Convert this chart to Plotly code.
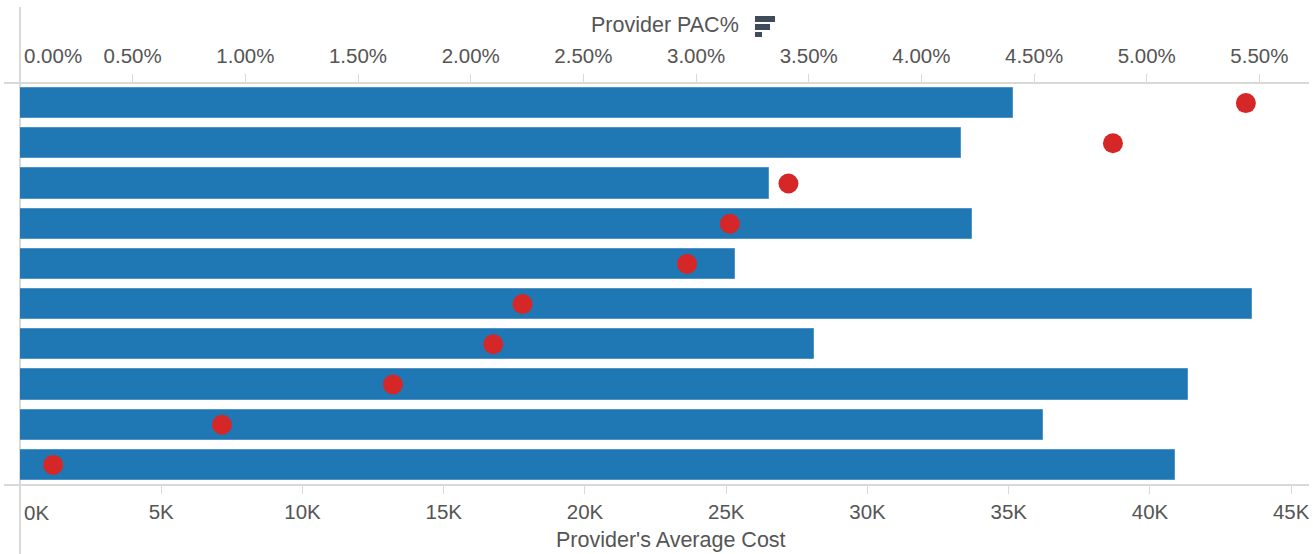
import plotly.graph_objects as go

# Providers ranked by PAC% (highest first)
provider_rank = [1, 2, 3, 4, 5, 6, 7, 8, 9, 10]
avg_cost = [35150, 33300, 26500, 33700, 25300, 43600, 28100, 41350, 36200, 40900]
pac_share = [0.0544, 0.0485, 0.0341, 0.0315, 0.0296, 0.0223, 0.0210, 0.01655, 0.00896, 0.00147]

cost_tickvals = [5000, 10000, 15000, 20000, 25000, 30000, 35000, 40000, 45000]
cost_ticktext = ["5K", "10K", "15K", "20K", "25K", "30K", "35K", "40K", "45K"]
pac_tickvals = [0.005, 0.01, 0.015, 0.02, 0.025, 0.03, 0.035, 0.04, 0.045, 0.05, 0.055]

W, H = 1313, 554
M_L, M_R, M_T, M_B = 20, 4, 83, 69
PW, PH = W - M_L - M_R, H - M_T - M_B

FONT = "Liberation Sans, Arial, Helvetica, sans-serif"
TEXT = "#555555"
RULE = "#d9d9d9"
BAR = "#1f77b4"
DOT = "#d62728"
TICK_SIZE = 20.5
TITLE_SIZE = 21.5


def px_x(p):
    return (p - M_L) / PW


def px_y(p):
    return (H - M_B - p) / PH


fig = go.Figure()

fig.add_trace(go.Bar(
    x=avg_cost, y=[r - 1 for r in provider_rank], orientation="h",
    width=0.75, marker=dict(color=BAR, line=dict(color="#4f94c9", width=1)),
    xaxis="x", yaxis="y", hoverinfo="x",
))

fig.add_trace(go.Scatter(
    x=pac_share, y=[r - 1 for r in provider_rank], mode="markers",
    marker=dict(color=DOT, size=20, line=dict(width=0)),
    xaxis="x2", yaxis="y", hoverinfo="x", cliponaxis=False,
))

axis_common = dict(
    showgrid=False, zeroline=False, showline=False,
    ticks="outside", ticklen=8, tickwidth=1, tickcolor=RULE,
    tickfont=dict(family=FONT, size=TICK_SIZE, color=TEXT),
    fixedrange=True,
)

fig.update_layout(
    width=W, height=H,
    margin=dict(l=M_L, r=M_R, t=M_T, b=M_B, pad=0),
    paper_bgcolor="white", plot_bgcolor="white",
    showlegend=False, bargap=0,
    xaxis=dict(range=[0, 45630], tickvals=cost_tickvals, ticktext=cost_ticktext,
               side="bottom", ticklabelstandoff=0, **axis_common),
    xaxis2=dict(range=[0, 0.0572], tickvals=pac_tickvals, tickformat=".2%",
                side="top", overlaying="x", ticklabelstandoff=3, **axis_common),
    yaxis=dict(range=[9.5, -0.5], showticklabels=False, showgrid=False,
               zeroline=False, showline=False, ticks="", fixedrange=True),
)

# Pane rules: top and bottom axis lines running into the left margin, and the left rule
line_style = dict(color=RULE, width=2)
fig.add_shape(type="line", xref="paper", yref="paper",
              x0=px_x(4), x1=1, y0=1, y1=1, line=line_style, layer="below")
fig.add_shape(type="line", xref="paper", yref="paper",
              x0=px_x(4), x1=1, y0=0, y1=0, line=line_style, layer="below")
fig.add_shape(type="line", xref="paper", yref="paper",
              x0=0, x1=0, y0=px_y(H), y1=px_y(7), line=line_style, layer="below")

# Zero labels sit just right of the origin
fig.add_annotation(text="0K", xref="paper", yref="paper", x=px_x(22), y=px_y(512),
                   xanchor="left", yanchor="middle", showarrow=False,
                   font=dict(family=FONT, size=TICK_SIZE, color=TEXT))
fig.add_annotation(text="0.00%", xref="paper", yref="paper", x=px_x(22), y=px_y(55),
                   xanchor="left", yanchor="middle", showarrow=False,
                   font=dict(family=FONT, size=TICK_SIZE, color=TEXT))

# Axis titles
fig.add_annotation(text="Provider PAC%", xref="paper", yref="paper", x=px_x(665), y=px_y(25),
                   xanchor="center", yanchor="middle", showarrow=False,
                   font=dict(family=FONT, size=TITLE_SIZE, color=TEXT))
fig.add_annotation(text="Provider's Average Cost", xref="paper", yref="paper", x=px_x(671), y=px_y(540),
                   xanchor="center", yanchor="middle", showarrow=False,
                   font=dict(family=FONT, size=TITLE_SIZE, color=TEXT))

# Sort indicator next to the top title (descending bars)
ICON = "#3f4b5b"
for (x1, y0, y1) in [(775, 16, 22), (770, 24, 30), (762, 32, 37)]:
    fig.add_shape(type="rect", xref="paper", yref="paper",
                  x0=px_x(755), x1=px_x(x1), y0=px_y(y1), y1=px_y(y0),
                  fillcolor=ICON, line=dict(width=0))

fig.write_html("out.html")
